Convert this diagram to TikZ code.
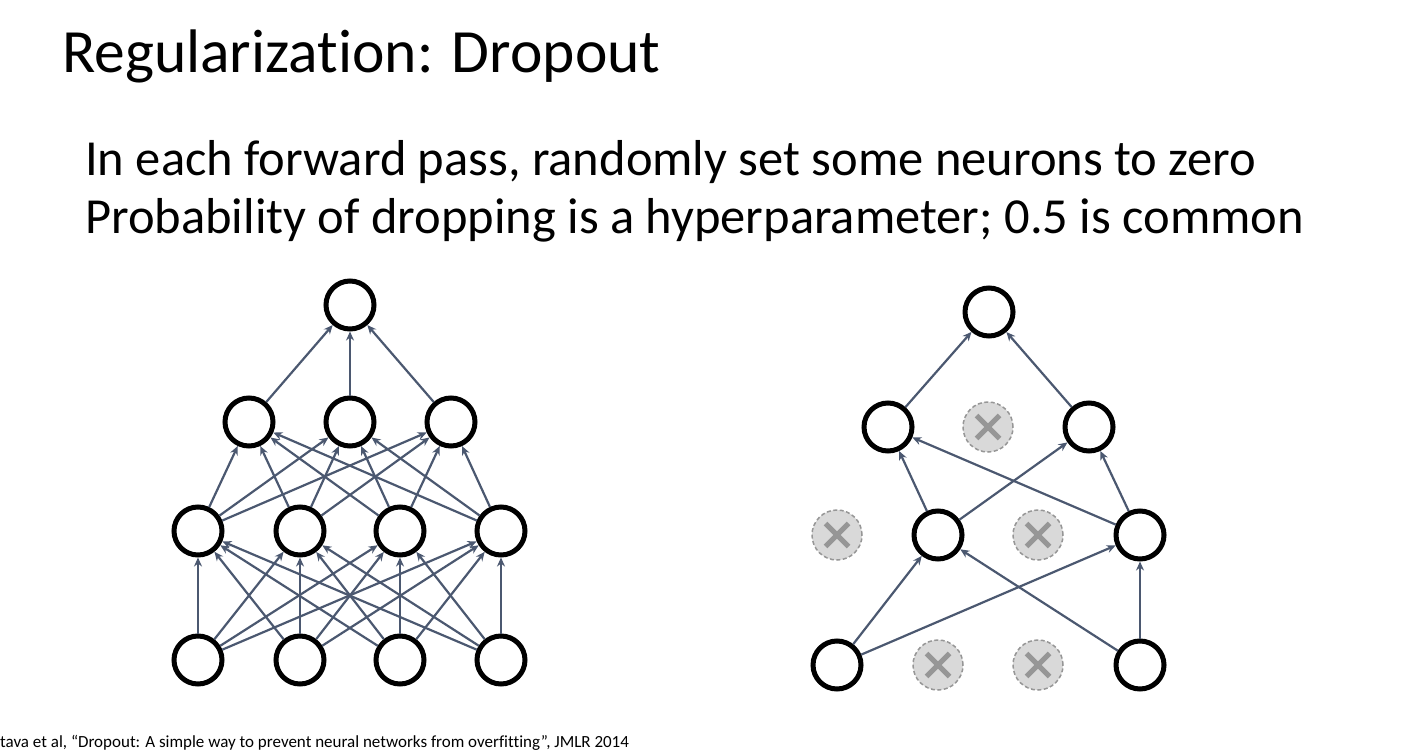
\documentclass[tikz,border=0pt]{standalone}
\usepackage{fontspec}
\setmainfont{Carlito}[Ligatures=NoCommon]
\usetikzlibrary{arrows.meta}
\definecolor{edgecol}{RGB}{75,88,112}
\definecolor{dropfill}{RGB}{217,217,217}
\definecolor{dropline}{RGB}{150,150,150}
\tikzset{
  neuron/.style={circle,draw=black,line width=5pt,fill=white,minimum size=48pt,inner sep=0pt},
  dropped/.style={circle,draw=dropline,dashed,dash pattern=on 4pt off 2.5pt,line width=1.5pt,fill=dropfill,minimum size=50pt,inner sep=0pt,
    path picture={\draw[solid,dropline,line width=5pt] ([shift={(-11.5pt,-11.5pt)}]path picture bounding box.center) -- ([shift={(11.5pt,11.5pt)}]path picture bounding box.center);
                  \draw[solid,dropline,line width=5pt] ([shift={(-11.5pt,11.5pt)}]path picture bounding box.center) -- ([shift={(11.5pt,-11.5pt)}]path picture bounding box.center);}},
  conn/.style={draw=edgecol,line width=2.2pt,-{Stealth[length=9pt,width=8pt]}},
  txt/.style={anchor=base west,inner sep=0pt,text=black}
}
\begin{document}
\begin{tikzpicture}[x=1pt,y=-1pt]
\useasboundingbox (0,0) rectangle (1418,752);
\node[txt,font=\fontsize{61.5}{62}\selectfont] (title) at (62,73) {Regularization: Dropout};
\node[txt,font=\fontsize{50.5}{50}\selectfont] (line1) at (85,175) {In each forward pass, randomly set some neurons to zero};
\node[txt,font=\fontsize{50.5}{50}\selectfont] (line2) at (85,233) {Probability of dropping is a hyperparameter; 0.5 is common};
\node[txt,font=\fontsize{17}{17}\selectfont] (foot) at (0,747) {tava et al, “Dropout: A simple way to prevent neural networks from overfitting”, JMLR 2014};

% left network
\node[neuron] (Lo) at (350,305) {};
\node[neuron] (L21) at (249,422) {};
\node[neuron] (L22) at (350,422) {};
\node[neuron] (L23) at (451,422) {};
\node[neuron] (L11) at (198,531) {};
\node[neuron] (L12) at (300,531) {};
\node[neuron] (L13) at (400,531) {};
\node[neuron] (L14) at (501,531) {};
\node[neuron] (L01) at (198,660) {};
\node[neuron] (L02) at (300,660) {};
\node[neuron] (L03) at (400,660) {};
\node[neuron] (L04) at (501,660) {};
\foreach \i in {1,2,3,4}{\foreach \j in {1,2,3,4}{\draw[conn] (L0\i) -- (L1\j);}}
\foreach \i in {1,2,3,4}{\foreach \j in {1,2,3}{\draw[conn] (L1\i) -- (L2\j);}}
\foreach \j in {1,2,3}{\draw[conn] (L2\j) -- (Lo);}

% right network
\node[neuron] (Ro) at (989,312) {};
\node[neuron] (R21) at (888,427) {};
\node[dropped] (R22) at (988,427) {};
\node[neuron] (R23) at (1089,427) {};
\node[dropped] (R11) at (837,535) {};
\node[neuron] (R12) at (938,535) {};
\node[dropped] (R13) at (1038,535) {};
\node[neuron] (R14) at (1140,535) {};
\node[neuron] (R01) at (837,665) {};
\node[dropped] (R02) at (938,665) {};
\node[dropped] (R03) at (1038,665) {};
\node[neuron] (R04) at (1140,665) {};
\draw[conn] (R01) -- (R12);
\draw[conn] (R01) -- (R14);
\draw[conn] (R04) -- (R12);
\draw[conn] (R04) -- (R14);
\draw[conn] (R12) -- (R21);
\draw[conn] (R12) -- (R23);
\draw[conn] (R14) -- (R21);
\draw[conn] (R14) -- (R23);
\draw[conn] (R21) -- (Ro);
\draw[conn] (R23) -- (Ro);
\end{tikzpicture}
\end{document}
